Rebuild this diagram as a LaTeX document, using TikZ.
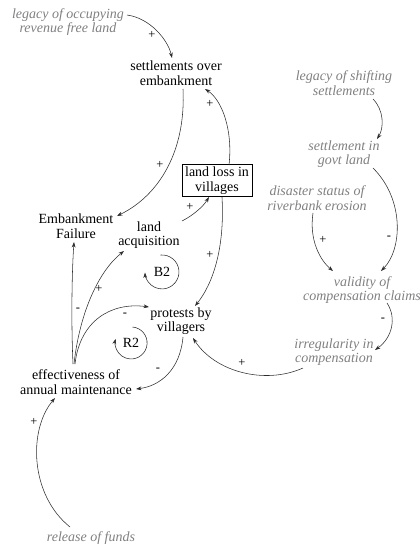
\documentclass[tikz,border=0pt]{standalone}
\usepackage{fontspec}
\setmainfont{Liberation Serif}
\usetikzlibrary{arrows.meta}
\definecolor{exogray}{RGB}{128,128,130}
\definecolor{linkcol}{RGB}{45,45,45}
\begin{document}
\begin{tikzpicture}[x=1pt,y=-1pt,
  var/.style={align=center,inner sep=1pt,font=\fontsize{14}{14.5}\selectfont},
  exo/.style={var,text=exogray,font=\fontsize{14}{14.5}\selectfont\itshape},
  stockbox/.style={var,draw=black,line width=0.8pt,minimum width=70pt,minimum height=31pt,inner sep=2pt},
  link/.style={draw=linkcol,line width=0.55pt,-{Stealth[length=5.5pt,width=3.8pt]}},
  pol/.style={font=\fontsize{12.5}{13}\selectfont,inner sep=0pt},
  looplbl/.style={font=\fontsize{14}{14.5}\selectfont,inner sep=0pt}]
\useasboundingbox (0,0) rectangle (420,547);

% variables
\node[exo] (legacyO) at (68,22) {legacy of occupying\\revenue free land};
\node[var] (settle) at (176,73) {settlements over\\embankment};
\node[exo] (legacyS) at (344,83) {legacy of shifting\\settlements};
\node[exo] (govt) at (344,154) {settlement in\\govt land};
\node[exo] (disaster) at (317,198) {disaster status of\\riverbank erosion};
\node[stockbox] (landloss) at (217,180.5) {land loss in\\villages};
\node[var] (embfail) at (76,226) {Embankment\\Failure};
\node[var] (landacq) at (149,235) {land\\acquisition};
\node[exo] (validity) at (362,290) {validity of\\compensation claims};
\node[var] (protests) at (181,321) {protests by\\villagers};
\node[exo] (irreg) at (334,352) {irregularity in\\compensation};
\node[var] (effect) at (76,382) {effectiveness of\\annual maintenance};
\node[exo] (release) at (91,538) {release of funds};
\node[looplbl] (B2) at (162,272) {B2};
\node[looplbl] (R2) at (131,343) {R2};

% causal links
\draw[link] ([shift={(59,-7)}]legacyO.center) .. controls (150,18) and (168,40) .. ([shift={(-4,-15)}]settle.center);
\draw[link] ([shift={(7,16)}]settle.center) .. controls (186,150) and (160,195) .. ([shift={(41,-10)}]embfail.center);
\draw[link] ([shift={(12,-15.5)}]landloss.center) .. controls (233,130) and (222,100) .. ([shift={(29,16)}]settle.center);
\draw[link] ([shift={(33,-14)}]landacq.center) .. controls (192,216) and (203,207) .. ([shift={(-8,16.5)}]landloss.center);
\draw[link] ([shift={(5,16.5)}]landloss.center) .. controls (225,250) and (212,285) .. ([shift={(14,-15)}]protests.center);
\draw[link] ([shift={(29,16)}]legacyS.center) .. controls (384,110) and (384,128) .. ([shift={(33,-15)}]govt.center);
\draw[link] ([shift={(29,14)}]govt.center) .. controls (405,200) and (402,250) .. ([shift={(19,-19)}]validity.center);
\draw[link] ([shift={(-4,15)}]disaster.center) .. controls (309,240) and (320,260) .. ([shift={(-29,-19)}]validity.center);
\draw[link] ([shift={(25,13)}]validity.center) .. controls (397,318) and (392,338) .. ([shift={(41,-2)}]irreg.center);
\draw[link] ([shift={(-31,16)}]irreg.center) .. controls (265,385) and (215,372) .. ([shift={(12,17)}]protests.center);
\draw[link] ([shift={(2,16)}]protests.center) .. controls (180,370) and (160,386) .. ([shift={(60,7)}]effect.center);
\draw[link] ([shift={(-1,-18)}]effect.center) .. controls (80,320) and (112,302) .. ([shift={(-32,-14)}]protests.center);
\draw[link] ([shift={(-2,-18)}]effect.center) .. controls (80,310) and (100,270) .. ([shift={(-25,16)}]landacq.center);
\draw[link] ([shift={(-3,-18)}]effect.center) .. controls (71,320) and (72,270) .. ([shift={(-2,16)}]embfail.center);
\draw[link] ([shift={(-21,-11)}]release.center) .. controls (30,495) and (28,430) .. ([shift={(-21,16)}]effect.center);

% link polarities
\node[pol] (p1) at (152,35) {+};
\node[pol] (p2) at (160,165) {+};
\node[pol] (p3) at (210,104) {+};
\node[pol] (p4) at (190,207) {+};
\node[pol] (p5) at (210,255) {+};
\node[pol] (p6) at (323,240) {+};
\node[pol] (p7) at (389,238) {-};
\node[pol] (p8) at (383,320) {-};
\node[pol] (p9) at (242,363) {+};
\node[pol] (p10) at (158,370) {-};
\node[pol] (p11) at (125,315) {-};
\node[pol] (p12) at (99,289) {+};
\node[pol] (p13) at (78,310) {-};
\node[pol] (p14) at (34,422) {+};

% loop markers
\begin{scope}[x=1pt,y=1pt]
\draw[link] ([shift={(-1.5,17)}]B2.center) arc[start angle=95, end angle=-178, radius=17pt];
\draw[link] ([shift={(1.5,16)}]R2.center) arc[start angle=85, end angle=-195, radius=16pt];
\end{scope}
\end{tikzpicture}
\end{document}
